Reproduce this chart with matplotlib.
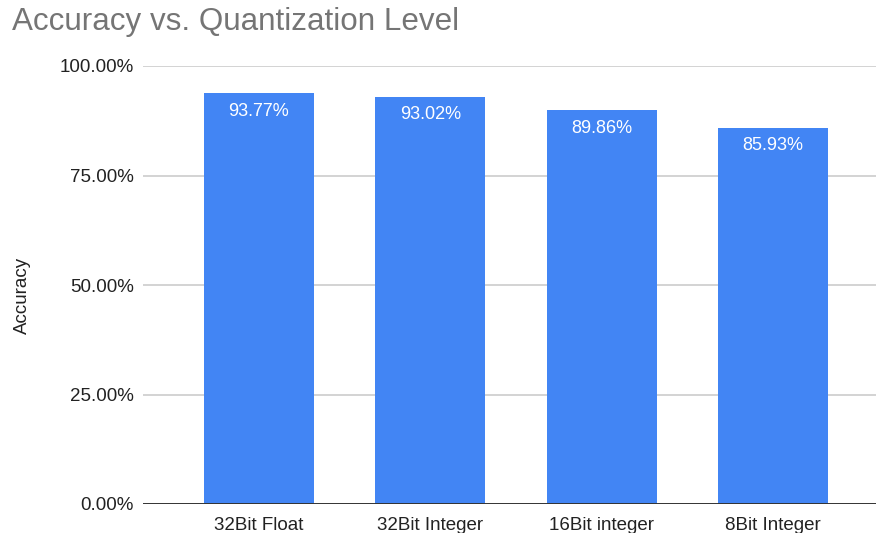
import matplotlib
matplotlib.use("Agg")
import matplotlib.pyplot as plt
from matplotlib.ticker import FuncFormatter

categories = ["32Bit Float", "32Bit Integer", "16Bit integer", "8Bit Integer"]
accuracy = [0.9377, 0.9302, 0.8986, 0.8593]
y_ticks = [0.0, 0.25, 0.50, 0.75, 1.0]

plt.rcParams["font.family"] = ["Liberation Sans", "DejaVu Sans"]

W, H = 878, 533
fig = plt.figure(figsize=(W / 100, H / 100), dpi=100)
ax = fig.add_axes([143 / W, (H - 504) / H, (876 - 143) / W, (504 - 66) / H])

x = list(range(len(categories)))
bars = ax.bar(x, accuracy, width=0.642, color="#4285F4", zorder=3)

ax.set_xlim(-0.677, 3.601)
ax.set_ylim(0, 1.0)
ax.set_yticks(y_ticks)
ax.yaxis.set_major_formatter(FuncFormatter(lambda v, _: f"{v * 100:.2f}%"))
ax.set_xticks(x)
ax.set_xticklabels(categories)

for s in ax.spines.values():
    s.set_visible(False)
ax.tick_params(axis="both", length=0, labelsize=13.5, colors="#222222")
ax.tick_params(axis="y", pad=6.5)
ax.tick_params(axis="x", pad=9)

for t in y_ticks[1:]:
    ax.axhline(t, color="#cccccc", linewidth=1.2, zorder=1)
ax.axhline(0, color="#333333", linewidth=1.4, zorder=4)

for rect, v in zip(bars, accuracy):
    ax.annotate(f"{v * 100:.2f}%", (rect.get_x() + rect.get_width() / 2, v),
                xytext=(0, -7), textcoords="offset points",
                ha="center", va="top", color="white", fontsize=13, zorder=5)

fig.text(22 / W, 1 - 295 / H, "Accuracy", rotation=90, fontsize=13.5,
         color="#222222", ha="center", va="center")

fig.text(12 / W, 1 - 22 / H, "Accuracy vs. Quantization Level",
         fontsize=22.6, color="#757575", ha="left", va="center")

fig.savefig("out.png", dpi=100)
